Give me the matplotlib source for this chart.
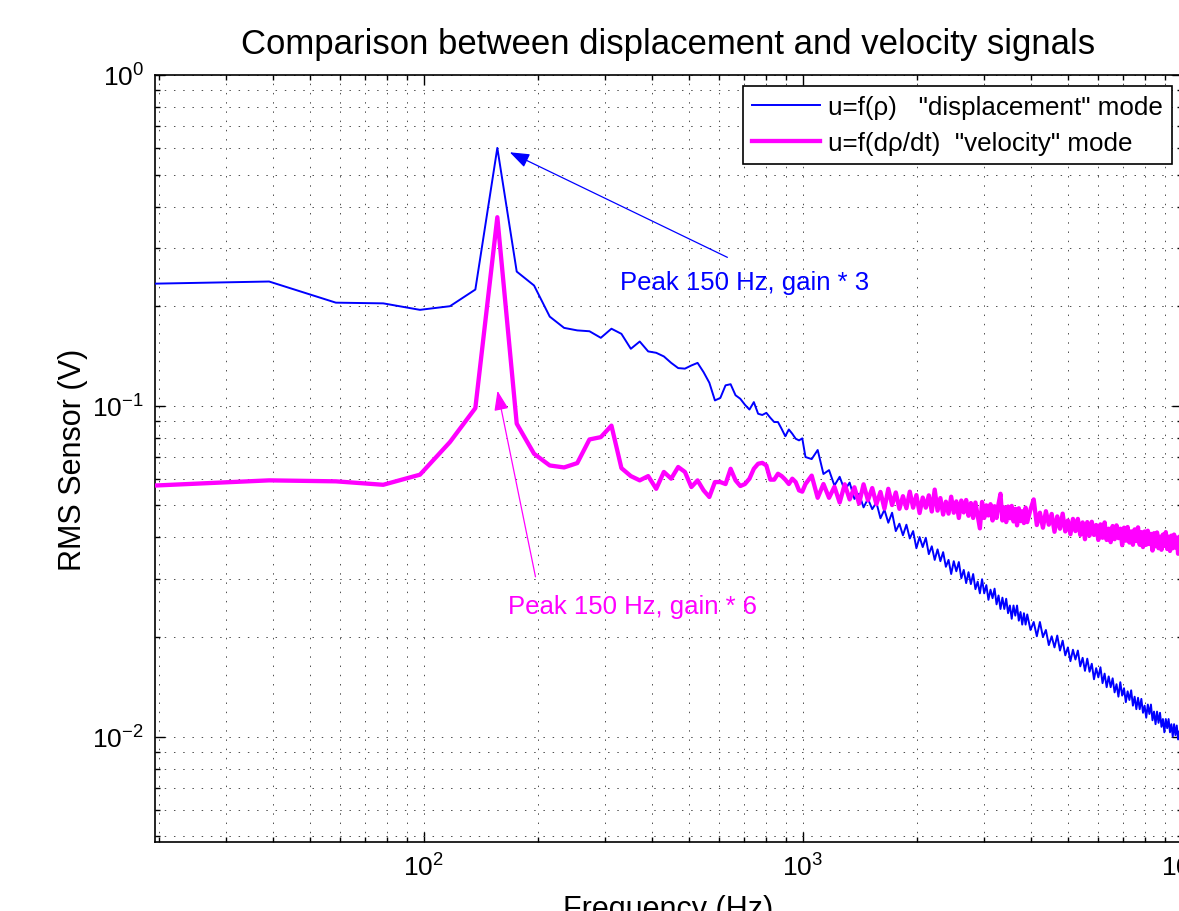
import matplotlib
matplotlib.use("Agg")
import matplotlib.pyplot as plt
import numpy as np
from matplotlib.ticker import LogLocator, NullFormatter

plt.rcParams["font.family"] = ["Liberation Sans", "DejaVu Sans"]
plt.rcParams["mathtext.default"] = "regular"

# FFT bin width of the spectra (Hz)
BIN_HZ = 19.53

# bins 1..52, every bin
bins_low = np.arange(1, 53)
disp_low = [
    0.234, 0.2375, 0.205, 0.204, 0.195, 0.200, 0.2246, 0.602, 0.2545, 0.231,
    0.186, 0.172, 0.169, 0.168, 0.1605, 0.171, 0.165, 0.1487, 0.1564, 0.146,
    0.1446, 0.141, 0.1348, 0.130, 0.1295, 0.1324, 0.1348, 0.1264, 0.1174, 0.1038,
    0.1056, 0.1153, 0.1162, 0.1076, 0.1050, 0.1007, 0.0974, 0.1026, 0.0946, 0.0938,
    0.0952, 0.0920, 0.0893, 0.0893, 0.0851, 0.0809, 0.0848, 0.0823, 0.0795, 0.0786,
    0.0797, 0.0700,
]
vel_low = [
    0.0574, 0.0595, 0.0591, 0.0577, 0.0619, 0.0777, 0.0984, 0.3716, 0.0883, 0.0716,
    0.0660, 0.0651, 0.0671, 0.0791, 0.0804, 0.0871, 0.0648, 0.0613, 0.0595, 0.0613,
    0.0561, 0.0631, 0.0602, 0.0653, 0.0631, 0.0568, 0.0595, 0.0555, 0.0530, 0.0588,
    0.0588, 0.0580, 0.0645, 0.0595, 0.0572, 0.0580, 0.0602, 0.0645, 0.0668, 0.0672,
    0.0660, 0.0598, 0.0598, 0.0623, 0.0613, 0.0598, 0.0580, 0.0602, 0.0588, 0.0555,
    0.0550, 0.0580,
]

# bins 54..200, every 2nd bin
bins_mid = np.arange(54, 201, 2)
disp_mid = [
    0.0690, 0.0735, 0.0622, 0.0639, 0.0574, 0.0610, 0.0555, 0.0586, 0.0523, 0.0542,
    0.0493, 0.0523, 0.0487, 0.0510, 0.0457, 0.0485, 0.0443, 0.0475, 0.0418, 0.0440,
    0.0406, 0.0437, 0.0397, 0.0418, 0.0371, 0.0401, 0.0374, 0.0399, 0.0356, 0.0376,
    0.0342, 0.0368, 0.0339, 0.0361, 0.0326, 0.0342, 0.0310, 0.0339, 0.0316, 0.0337,
    0.0301, 0.0319, 0.0291, 0.0314, 0.0289, 0.0310, 0.0279, 0.0294, 0.0271, 0.0299,
    0.0271, 0.0287, 0.0259, 0.0278, 0.0262, 0.0280, 0.0251, 0.0267, 0.0243, 0.0263,
    0.0243, 0.0261, 0.0236, 0.0249, 0.0227, 0.0249, 0.0232, 0.0249, 0.0224, 0.0238,
    0.0218, 0.0236, 0.0218, 0.0234,
]
vel_mid = [
    0.0615, 0.0527, 0.0580, 0.0527, 0.0569, 0.0510, 0.0579, 0.0521, 0.0567, 0.0506,
    0.0579, 0.0518, 0.0564, 0.0504, 0.0549, 0.0489, 0.0561, 0.0501, 0.0547, 0.0488,
    0.0533, 0.0490, 0.0550, 0.0492, 0.0537, 0.0474, 0.0528, 0.0492, 0.0536, 0.0479,
    0.0558, 0.0482, 0.0526, 0.0469, 0.0513, 0.0472, 0.0531, 0.0475, 0.0514, 0.0458,
    0.0517, 0.0476, 0.0519, 0.0465, 0.0508, 0.0458, 0.0510, 0.0466, 0.0426, 0.0512,
    0.0458, 0.0500, 0.0466, 0.0504, 0.0450, 0.0497, 0.0458, 0.0505, 0.0542, 0.0450,
    0.0493, 0.0445, 0.0496, 0.0457, 0.0498, 0.0447, 0.0488, 0.0435, 0.0490, 0.0448,
    0.0480, 0.0442, 0.0492, 0.0445,
]

# bins 204..512, every 4th bin
bins_high = np.arange(204, 513, 4)
disp_high = [
    0.0210, 0.0222, 0.0201, 0.0222, 0.0200, 0.0210, 0.0189, 0.0201, 0.0186, 0.0202,
    0.0182, 0.0195, 0.0176, 0.0186, 0.0169, 0.0183, 0.0171, 0.0182, 0.0163, 0.0173,
    0.0158, 0.0172, 0.0157, 0.0166, 0.0149, 0.0161, 0.0151, 0.0162, 0.0145, 0.0155,
    0.0141, 0.0152, 0.0141, 0.0150, 0.0136, 0.0144, 0.0132, 0.0146, 0.0133, 0.0140,
    0.0127, 0.0137, 0.0129, 0.0138, 0.0124, 0.0132, 0.0121, 0.0131, 0.0121, 0.0130,
    0.0118, 0.0124, 0.0114, 0.0125, 0.0117, 0.0125, 0.0112, 0.0119, 0.0109, 0.0119,
    0.0110, 0.0118, 0.0107, 0.0113, 0.0103, 0.0113, 0.0106, 0.0113, 0.0103, 0.0109,
    0.0100, 0.0109, 0.0101, 0.0108, 0.0098, 0.0104, 0.0095, 0.0101,
]
vel_high = [
    0.0486, 0.0521, 0.0436, 0.0475, 0.0428, 0.0480, 0.0437, 0.0471, 0.0416, 0.0463,
    0.0425, 0.0472, 0.0417, 0.0450, 0.0409, 0.0455, 0.0418, 0.0455, 0.0407, 0.0444,
    0.0395, 0.0445, 0.0405, 0.0446, 0.0407, 0.0436, 0.0393, 0.0438, 0.0399, 0.0444,
    0.0393, 0.0425, 0.0387, 0.0433, 0.0395, 0.0435, 0.0398, 0.0425, 0.0379, 0.0428,
    0.0391, 0.0430, 0.0386, 0.0417, 0.0380, 0.0423, 0.0390, 0.0429, 0.0380, 0.0415,
    0.0374, 0.0417, 0.0380, 0.0419, 0.0382, 0.0410, 0.0365, 0.0412, 0.0376, 0.0414,
    0.0371, 0.0402, 0.0367, 0.0408, 0.0377, 0.0415, 0.0369, 0.0402, 0.0364, 0.0405,
    0.0371, 0.0408, 0.0373, 0.0399, 0.0357, 0.0402, 0.0368, 0.0391,
]

freq = BIN_HZ * np.concatenate([bins_low, bins_mid, bins_high])
disp = np.concatenate([disp_low, disp_mid, disp_high])
vel = np.concatenate([vel_low, vel_mid, vel_high])

fig = plt.figure(figsize=(11.79, 9.12), dpi=100)
ax = fig.add_axes([155 / 1179, 69 / 912, 1027 / 1179, 767 / 912])

ax.loglog(freq, disp, color=(0, 0, 1), lw=1.4, zorder=3,
          label='u=f(\u03c1)   "displacement" mode')
ax.loglog(freq, vel, color=(1, 0, 1), lw=3.1, zorder=3,
          label='u=f(d\u03c1/dt)  "velocity" mode')

ax.set_xlim(BIN_HZ, 1e4)
ax.set_ylim(0.0048, 1.0)

ax.xaxis.set_major_locator(LogLocator(base=10, numticks=10))
ax.xaxis.set_minor_locator(LogLocator(base=10, subs=np.arange(2, 10), numticks=20))
ax.yaxis.set_minor_locator(LogLocator(base=10, subs=np.arange(2, 10), numticks=20))
ax.xaxis.set_minor_formatter(NullFormatter())
ax.yaxis.set_minor_formatter(NullFormatter())

ax.grid(True, which="both", color="0.3", lw=0.7, ls=(0, (1.5, 8)), zorder=0)
ax.tick_params(which="both", direction="in", top=True, right=True,
               width=1.0, labelsize=19, color="black")
ax.tick_params(which="major", length=7, pad=8)
ax.tick_params(which="minor", length=3.5)
for sp in ax.spines.values():
    sp.set_linewidth(1.2)

ax.set_title("Comparison between displacement and velocity signals",
             fontsize=25, pad=16)
ax.set_xlabel("Frequency (Hz)", fontsize=22, labelpad=10)
ax.set_ylabel("RMS Sensor (V)", fontsize=22, labelpad=3)

leg = ax.legend(loc="upper right", bbox_to_anchor=(0.990, 0.986),
                borderaxespad=0, fontsize=18.7, fancybox=False, framealpha=1,
                edgecolor="black", handlelength=2.6, handletextpad=0.3,
                borderpad=0.35, labelspacing=0.48)
leg.get_frame().set_linewidth(1.2)

# peak annotations
ax.annotate("", xy=(168.5, 0.584), xytext=(632, 0.281),
            arrowprops=dict(arrowstyle="-|>,head_length=0.6,head_width=0.22",
                            color=(0, 0, 1), lw=0.9, mutation_scale=20,
                            shrinkA=0, shrinkB=0))
ax.text(330, 0.237, "Peak 150 Hz, gain * 3", color=(0, 0, 1), fontsize=18.5,
        ha="left", va="center")
ax.annotate("", xy=(156.4, 0.111), xytext=(197, 0.0304),
            arrowprops=dict(arrowstyle="-|>,head_length=0.6,head_width=0.22",
                            color=(1, 0, 1), lw=0.9, mutation_scale=20,
                            shrinkA=0, shrinkB=0))
ax.text(167, 0.0249, "Peak 150 Hz, gain * 6", color=(1, 0, 1), fontsize=18.5,
        ha="left", va="center")

fig.savefig("out.png", dpi=100)
